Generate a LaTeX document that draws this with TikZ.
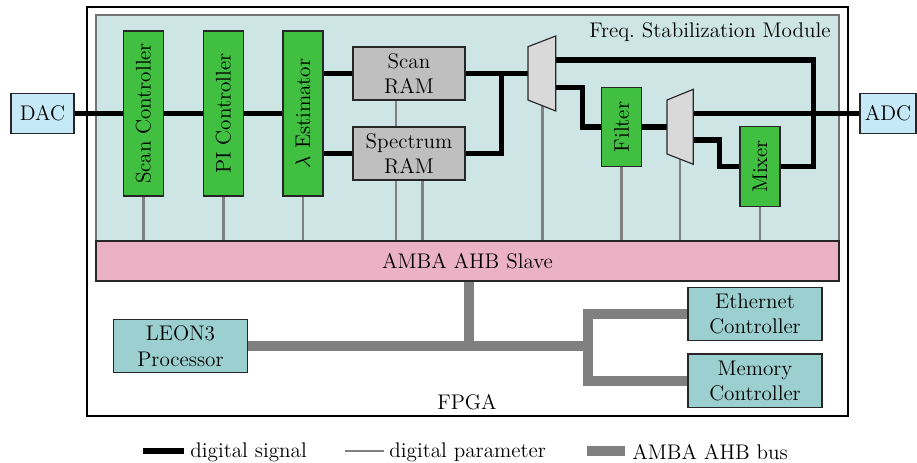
\documentclass[tikz,border=0pt]{standalone}
\usetikzlibrary{calc}
\definecolor{tealbg}{HTML}{CDE5E5}
\definecolor{pinkbg}{HTML}{EBB1C4}
\definecolor{dacblue}{HTML}{C6E9F8}
\definecolor{blkgreen}{HTML}{40BF40}
\definecolor{ramgray}{HTML}{BFBFBF}
\definecolor{muxgray}{HTML}{D9D9D9}
\definecolor{cputeal}{HTML}{9CCFCF}
\definecolor{busgray}{HTML}{808080}
\pgfdeclarelayer{back}
\pgfdeclarelayer{background}
\pgfsetlayers{back,background,main}
\def\U{0.52pt}
\tikzset{
  every node/.style={font=\fontsize{11}{13.2}\selectfont},
  box/.style={draw=black!85, line width=0.6pt, inner sep=1pt, align=center},
  conv/.style={box, fill=dacblue, minimum width=60*\U, minimum height=40*\U},
  gblock/.style={box, fill=blkgreen, minimum width=40*\U, rotate=90},
  ram/.style={box, fill=ramgray, minimum width=112*\U, minimum height=53*\U},
  cpu/.style={box, fill=cputeal, minimum width=134*\U, minimum height=53.4*\U},
  mux/.style={draw=black!85, line width=0.6pt, fill=muxgray},
  sig/.style={line width=5.5*\U, line join=miter},
  param/.style={line width=2.5*\U, draw=black!50},
  bus/.style={line width=10*\U, draw=busgray, line join=miter},
}
\begin{document}
\begin{tikzpicture}[x=0.52pt, y=-0.52pt]
\useasboundingbox (0,0) rectangle (917,463);
% frames
\begin{pgfonlayer}{back}
\draw[line width=0.6pt, fill=white] (87,7) rectangle (848,416);
\fill[tealbg] (96,15) rectangle (839,241);
\draw[black!55, line width=0.6pt] (96,241) -- (96,15) -- (839,15) -- (839,241);
\end{pgfonlayer}
\node[anchor=east, inner sep=0pt] (fsm) at (831,32) {Freq.\ Stabilization Module};
\node[box, fill=pinkbg, minimum width=743*\U, minimum height=40*\U] (ahb) at (467.5,261) {AMBA AHB Slave};
\node (fpga) at (467,402) {FPGA};
% converters
\node[conv, minimum width=63*\U] (dac) at (42.5,113.5) {DAC};
\node[conv, minimum width=56*\U] (adc) at (888,113.5) {ADC};
% green blocks
\node[gblock, minimum width=165*\U, minimum height=40*\U] (scan) at (143.3,113.5) {Scan Controller};
\node[gblock, minimum width=165*\U, minimum height=40*\U] (pi) at (223.3,113.5) {PI Controller};
\node[gblock, minimum width=165*\U, minimum height=40*\U] (est) at (303,113.5) {$\lambda$ Estimator};
\node[gblock, minimum width=79.4*\U, minimum height=40*\U] (filt) at (621.7,127) {Filter};
\node[gblock, minimum width=80*\U, minimum height=40*\U] (mix) at (760,166.5) {Mixer};
% RAMs
\node[ram] (sram) at (409,73.5) {Scan\\RAM};
\node[ram] (pram) at (409,153.5) {Spectrum\\RAM};
% muxes
\draw[mux] (528,46.7) -- (555.7,36) -- (555.7,111) -- (528,100) -- cycle;
\draw[mux] (667,100) -- (693.3,89.3) -- (693.3,164.3) -- (667,154) -- cycle;
\coordinate (m1in) at (528,73.5);
\coordinate (m1a) at (555.7,60);
\coordinate (m1b) at (555.7,87.3);
\coordinate (m1p) at (542.3,104);
\coordinate (m2in) at (667,127);
\coordinate (m2a) at (693.3,113.5);
\coordinate (m2b) at (693.3,140);
\coordinate (m2p) at (680,158);
\coordinate (j1) at (501.7,73.5);
\coordinate (c1) at (813.3,60);
\coordinate (c2) at (582.7,87.3);
\coordinate (c3) at (719.3,140);
% CPU side
\node[cpu] (leon) at (180.5,346) {LEON3\\Processor};
\node[cpu] (eth) at (755,314) {Ethernet\\Controller};
\node[cpu] (mem) at (755,380.7) {Memory\\Controller};
\coordinate (bj) at (468.6,346);
\coordinate (bk) at (587.7,346);
% legend
\coordinate (l1a) at (143,451); \coordinate (l1b) at (184,451);
\coordinate (l2a) at (344.6,451); \coordinate (l2b) at (383.6,451);
\coordinate (l3a) at (586.7,451); \coordinate (l3b) at (625,451);
\node[anchor=west, inner sep=0pt] (lt1) at (190,452) {digital signal};
\node[anchor=west, inner sep=0pt] (lt2) at (389,452) {digital parameter};
\node[anchor=west, inner sep=0pt] (lt3) at (632,452) {AMBA AHB bus};
\draw[sig] (l1a) -- (l1b);
\draw[param] (l2a) -- (l2b);
\draw[bus] (l3a) -- (l3b);
% connectors
\begin{pgfonlayer}{background}
% parameters
\draw[param] (scan.west) -- (scan.west |- ahb.north);
\draw[param] (pi.west) -- (pi.west |- ahb.north);
\draw[param] (est.west) -- (est.west |- ahb.north);
\draw[param] ([xshift=-13*\U]sram.south) -- ([xshift=-13*\U]sram.south |- ahb.north);
\draw[param] ([xshift=13.3*\U]pram.south) -- ([xshift=13.3*\U]pram.south |- ahb.north);
\draw[param] (m1p) -- (m1p |- ahb.north);
\draw[param] (filt.west) -- (filt.west |- ahb.north);
\draw[param] (m2p) -- (m2p |- ahb.north);
\draw[param] (mix.west) -- (mix.west |- ahb.north);
% signals
\draw[sig] (dac.east) -- (scan.north);
\draw[sig] (scan.south) -- (pi.north);
\draw[sig] (pi.south) -- (est.north);
\draw[sig] (est.south |- sram.west) -- (sram.west);
\draw[sig] (est.south |- pram.west) -- (pram.west);
\draw[sig] (sram.east) -- (m1in);
\draw[sig] (pram.east) -- (pram.east -| j1) -- (j1);
\draw[sig] (m1a) -- (c1) -- (c1 |- mix.south) -- (mix.south);
\draw[sig] (m1b) -- (c2) -- (c2 |- filt.north) -- (filt.north);
\draw[sig] (filt.south) -- (m2in);
\draw[sig] (m2a) -- (adc.west);
\draw[sig] (m2b) -- (c3) -- (c3 |- mix.north) -- (mix.north);
% bus
\draw[bus] (ahb.south -| bj) -- (bj);
\draw[bus] (leon.east) -- (bk);
\draw[bus] (eth.west) -- (eth.west -| bk) -- (mem.west -| bk) -- (mem.west);
\end{pgfonlayer}
\end{tikzpicture}
\end{document}
